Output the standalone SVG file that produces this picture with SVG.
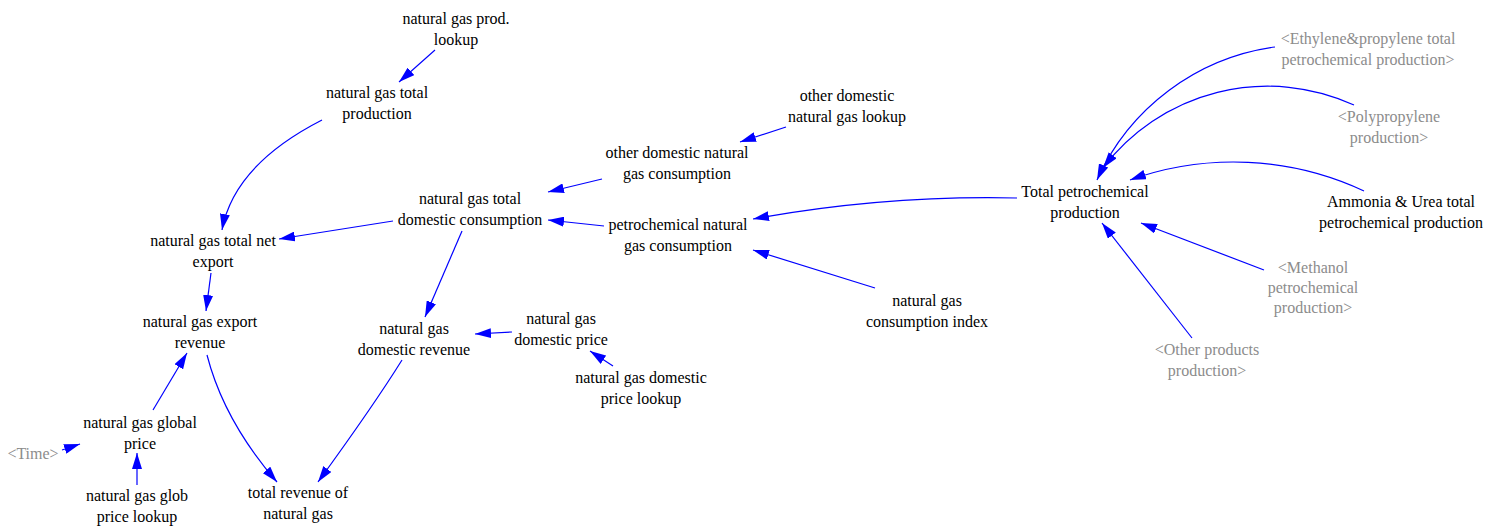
<svg xmlns="http://www.w3.org/2000/svg" width="1500" height="526" viewBox="0 0 1500 526" font-family="'Liberation Serif', 'DejaVu Serif', serif">
  <defs>
    <marker id="arrow" markerUnits="userSpaceOnUse" markerWidth="16" markerHeight="10" refX="16" refY="5" orient="auto">
      <path d="M0,0 L16,5 L0,10 z" fill="#0000ff"/>
    </marker>
    <style>
      text { font-family: 'Liberation Serif', 'DejaVu Serif', serif; font-size: 16px; text-anchor: middle; }
      .v { fill: #000000; }
      .s { fill: #8c8c8c; }
      #links path { fill: none; stroke: #0000ff; stroke-width: 1.2; marker-end: url(#arrow); }
    </style>
  </defs>
  <rect width="1500" height="526" fill="#ffffff"/>

  <!-- causal links -->
  <g id="links">
    <path d="M435,50 L399,82"/>
    <path d="M322,120 Q234,165 222,230"/>
    <path d="M393,221 L279,239"/>
    <path d="M211,273 L206,311"/>
    <path d="M153,410 L187,353"/>
    <path d="M207,355 Q224,421 277,482"/>
    <path d="M402,360 Q374,405 318,482"/>
    <path d="M62,450 L80,444"/>
    <path d="M137,485 L137,453"/>
    <path d="M462,231 L425,317"/>
    <path d="M512,332 L475,334"/>
    <path d="M613,366 L590,351"/>
    <path d="M602,179 L548,192"/>
    <path d="M604,226 L548,220"/>
    <path d="M786,127 L740,142"/>
    <path d="M875,288 L753,250"/>
    <path d="M1017,198 Q885,195 753,219"/>
    <path d="M1275,47 A229.5,229.5 0 0,0 1097,180"/>
    <path d="M1354,105 A207,207 0 0,0 1103,168"/>
    <path d="M1364,191 A307.7,307.7 0 0,0 1130,180"/>
    <path d="M1264,270 L1141,223"/>
    <path d="M1192,338 L1102,223"/>
  </g>

  <!-- variables -->
  <g id="ng-prod-lookup"><text class="v" x="456" y="24">natural gas prod.</text><text class="v" x="456" y="45">lookup</text></g>
  <g id="ng-total-production"><text class="v" x="377" y="98">natural gas total</text><text class="v" x="377" y="119">production</text></g>
  <g id="ng-total-net-export"><text class="v" x="213" y="246">natural gas total net</text><text class="v" x="213" y="267">export</text></g>
  <g id="ng-export-revenue"><text class="v" x="200" y="327">natural gas export</text><text class="v" x="200" y="348">revenue</text></g>
  <g id="ng-global-price"><text class="v" x="140" y="428">natural gas global</text><text class="v" x="140" y="449">price</text></g>
  <g id="time"><text class="s" x="33" y="459">&lt;Time&gt;</text></g>
  <g id="ng-glob-price-lookup"><text class="v" x="137" y="501">natural gas glob</text><text class="v" x="137" y="522">price lookup</text></g>
  <g id="total-revenue"><text class="v" x="298" y="498">total revenue of</text><text class="v" x="298" y="519">natural gas</text></g>
  <g id="ng-domestic-revenue"><text class="v" x="414" y="334">natural gas</text><text class="v" x="414" y="355">domestic revenue</text></g>
  <g id="ng-total-domestic-consumption"><text class="v" x="470" y="204">natural gas total</text><text class="v" x="470" y="225">domestic consumption</text></g>
  <g id="other-domestic-consumption"><text class="v" x="677" y="158">other domestic natural</text><text class="v" x="677" y="179">gas consumption</text></g>
  <g id="other-domestic-lookup"><text class="v" x="847" y="101">other domestic</text><text class="v" x="847" y="122">natural gas lookup</text></g>
  <g id="petrochemical-consumption"><text class="v" x="678" y="230">petrochemical natural</text><text class="v" x="678" y="251">gas consumption</text></g>
  <g id="ng-domestic-price"><text class="v" x="561" y="324">natural gas</text><text class="v" x="561" y="345">domestic price</text></g>
  <g id="ng-domestic-price-lookup"><text class="v" x="641" y="383">natural gas domestic</text><text class="v" x="641" y="404">price lookup</text></g>
  <g id="ng-consumption-index"><text class="v" x="927" y="306">natural gas</text><text class="v" x="927" y="327">consumption index</text></g>
  <g id="total-petrochemical-production"><text class="v" x="1085" y="197">Total petrochemical</text><text class="v" x="1085" y="218">production</text></g>
  <g id="ethylene-propylene"><text class="s" x="1368" y="44">&lt;Ethylene&amp;propylene total</text><text class="s" x="1368" y="65">petrochemical production&gt;</text></g>
  <g id="polypropylene"><text class="s" x="1389" y="122">&lt;Polypropylene</text><text class="s" x="1389" y="143">production&gt;</text></g>
  <g id="ammonia-urea"><text class="v" x="1401" y="207">Ammonia &amp; Urea total</text><text class="v" x="1401" y="228">petrochemical production</text></g>
  <g id="methanol"><text class="s" x="1313" y="273">&lt;Methanol</text><text class="s" x="1313" y="293">petrochemical</text><text class="s" x="1313" y="313">production&gt;</text></g>
  <g id="other-products"><text class="s" x="1207" y="355">&lt;Other products</text><text class="s" x="1207" y="376">production&gt;</text></g>
</svg>
